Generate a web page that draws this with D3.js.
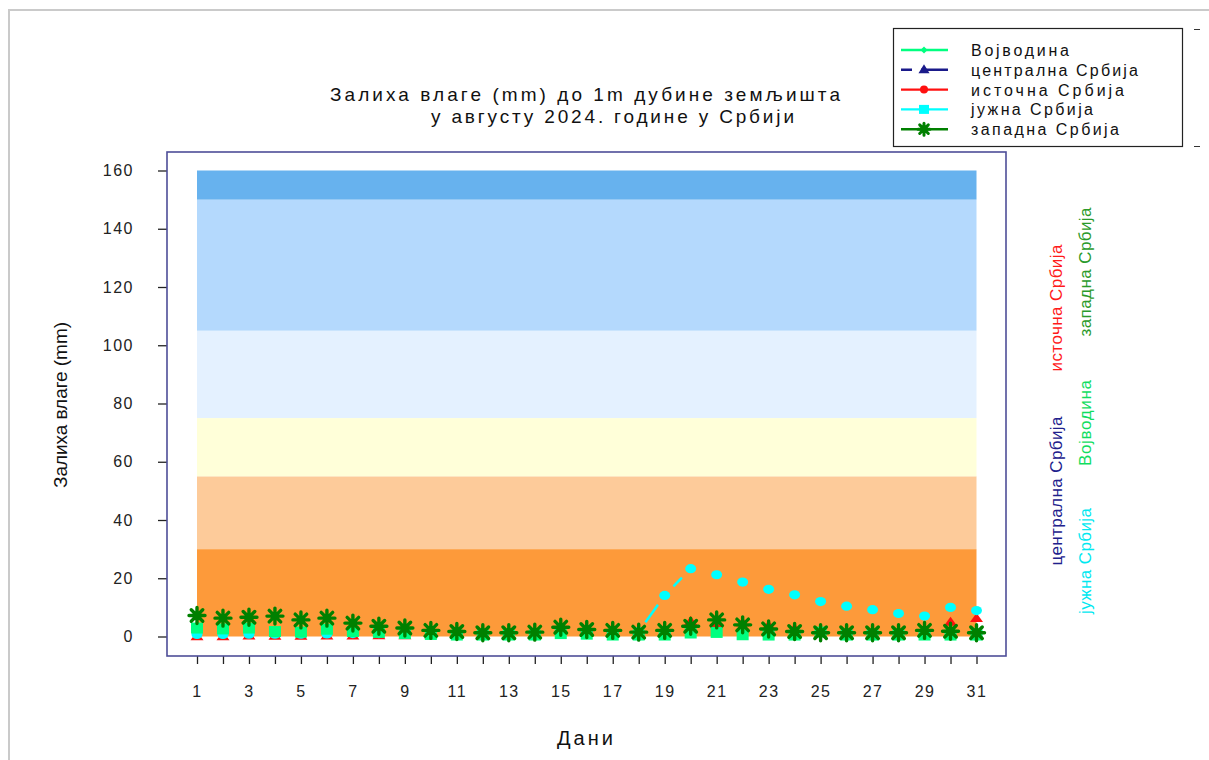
<!DOCTYPE html>
<html>
<head>
<meta charset="utf-8">
<script src="https://cdn.jsdelivr.net/npm/d3@7"></script>
<style>
  html, body { margin: 0; padding: 0; background: #fff; }
  svg { display: block; font-family: "Liberation Sans", Arial, sans-serif; }
</style>
</head>
<body>
<div id="chart"></div>
<script>
"use strict";

// days of August 2024
const days = d3.range(1, 32);

// soil moisture reserve (mm)
const vojvodina = [2.9, 2.6, 2.9, 1.7, 1.5, 2.5, 1.7, 1.4, 1.0, 0.7, 0.5, 0.5, 0.5, 0.5, 1.0, 0.8,
  0.5, 0.5, 0.5, 1.2, 1.4, 0.6, 0.5, 0.5, 1.5, 0.5, 0.5, 0.5, 0.5, 0.5, 0.5];
const centralna = [1.5, 1.5, 1.5, 1.2, 1.2, 1.5, 1.5, 1.4, 1.0, 1.0, 1.0, 1.0, 1.0, 1.0, 1.5, 1.5,
  1.5, 1.2, 1.5, 2.0, 2.0, 2.0, 1.8, 1.5, 1.2, 1.2, 1.2, 1.2, 1.5, 1.5, 1.2];
const istocna = [0.3, 0.3, 0.5, 0.4, 0.4, 0.5, 0.5, 0.6, 0.6, 0.8, 1.0, 1.0, 1.0, 1.2, 2.5, 2.8,
  2.8, 2.2, 2.0, 5.5, 4.5, 5.0, 4.0, 3.0, 1.5, 1.2, 1.2, 1.2, 1.8, 5.2, 6.5];
const juzna = [0.7, 0.7, 0.8, 0.8, 0.8, 0.9, 1.0, 1.0, 1.0, 1.1, 1.2, 1.2, 1.2, 1.3, 1.4, 1.5,
  1.6, 1.7, 14.1, 23.3, 21.2, 18.7, 16.2, 14.3, 12.0, 10.4, 9.2, 7.9, 7.0, 10.0, 8.9];
const zapadna = [7.2, 6.3, 6.6, 7.0, 5.7, 6.3, 4.6, 3.5, 2.9, 2.1, 1.7, 1.3, 1.3, 1.5, 3.2, 2.4,
  2.1, 1.5, 2.1, 3.5, 5.7, 4.0, 2.6, 1.7, 1.3, 1.3, 1.3, 1.3, 2.1, 1.8, 1.3];

// background classes (mm)
const bandBreaks = [0, 30, 55, 75, 105, 150, 160];
const bandColors = ["#fd9a3a", "#fdcb9a", "#ffffd9", "#e4f1ff", "#b4d9fd", "#67b2ee"];

const yTicks = [0, 20, 40, 60, 80, 100, 120, 140, 160];

const titleLines = ["Залиха влаге (mm) до 1m дубине земљишта", "у августу 2024. године у Србији"];
const yTitle = "Залиха влаге (mm)";
const xTitle = "Дани";

const seriesNames = ["Војводина", "централна Србија", "источна Србија", "јужна Србија", "западна Србија"];

const W = 1209, H = 760;
const frame = { left: 167, top: 152, right: 1006, bottom: 656 };

const svg = d3.select("#chart").append("svg")
  .attr("width", W)
  .attr("height", H);

// thin grey page border (top and left only)
svg.append("path")
  .attr("d", `M9,${H}V10H${W}`)
  .attr("fill", "none")
  .attr("stroke", "#cacaca")
  .attr("stroke-width", 2);

const x = d3.scaleLinear().domain([1, 31]).range([197, 976.5]);
const y = d3.scaleLinear().domain([0, 160]).range([636.5, 170.5]);

function fit(sel, len) {
  return sel.attr("textLength", len).attr("lengthAdjust", "spacing");
}

/*
 * Background bands
 ***/
svg.append("g").selectAll("rect")
  .data(bandColors)
  .join("rect")
  .attr("x", x(1))
  .attr("width", x(31) - x(1))
  .attr("y", (d, i) => y(bandBreaks[i + 1]))
  .attr("height", (d, i) => y(bandBreaks[i]) - y(bandBreaks[i + 1]))
  .attr("fill", d => d);

/*
 * Axes
 ***/
const yAxis = d3.axisLeft(y)
  .tickValues(yTicks)
  .tickSize(9)
  .tickPadding(24);

const yAxisG = svg.append("g")
  .attr("transform", `translate(${frame.left},0)`)
  .call(yAxis);

const xAxis = d3.axisBottom(x)
  .tickValues(days)
  .tickSize(8)
  .tickPadding(22)
  .tickFormat(d => d % 2 ? d : "");

const xAxisG = svg.append("g")
  .attr("transform", `translate(0,${frame.bottom})`)
  .call(xAxis);

[yAxisG, xAxisG].forEach(g => {
  g.select(".domain").remove();
  g.selectAll(".tick line").attr("stroke", "#222").attr("stroke-width", 1.3);
  g.selectAll("text")
    .style("font-size", "16px")
    .style("letter-spacing", "1.5px")
    .attr("fill", "#222");
});

// plot frame
svg.append("rect")
  .attr("x", frame.left)
  .attr("y", frame.top)
  .attr("width", frame.right - frame.left)
  .attr("height", frame.bottom - frame.top)
  .attr("fill", "none")
  .attr("stroke", "#4e4e98")
  .attr("stroke-width", 1.6);

/*
 * Series
 ***/
const marks = svg.append("g");

function trianglePath(w, h) {
  return `M0,${-h / 2}L${w / 2},${h / 2}L${-w / 2},${h / 2}Z`;
}
const asteriskPath = (r) => {
  const q = r * 0.72;
  return `M${-r},0H${r}M0,${-r}V${r}M${-q},${-q}L${q},${q}M${-q},${q}L${q},${-q}`;
};

// централна Србија (hidden under the others)
marks.append("g").selectAll("path")
  .data(centralna)
  .join("path")
  .attr("d", trianglePath(7, 6))
  .attr("transform", (d, i) => `translate(${x(days[i])},${y(d)})`)
  .attr("fill", "#1a1a8a");

// источна Србија
marks.append("g").selectAll("path")
  .data(istocna)
  .join("path")
  .attr("d", trianglePath(13, 9))
  .attr("transform", (d, i) => `translate(${x(days[i])},${y(d)})`)
  .attr("fill", "#ff1010");

// јужна Србија: dashes only where segments are long, then dots
const juznaG = marks.append("g");
juznaG.selectAll("line")
  .data(d3.pairs(juzna.map((v, i) => [x(days[i]), y(v)])))
  .join("line")
  .attr("x1", d => d[0][0]).attr("y1", d => d[0][1])
  .attr("x2", d => d[1][0]).attr("y2", d => d[1][1])
  .attr("stroke", "#00ffff")
  .attr("stroke-width", 2.5)
  .attr("stroke-dasharray", d => {
    const len = Math.hypot(d[1][0] - d[0][0], d[1][1] - d[0][1]);
    const dash = Math.max(0, (len - 28) * 1.3);
    return `0 ${(len - dash) / 2} ${dash} ${len}`;
  });
juznaG.selectAll("ellipse")
  .data(juzna)
  .join("ellipse")
  .attr("cx", (d, i) => x(days[i]))
  .attr("cy", d => y(d))
  .attr("rx", 5.5)
  .attr("ry", 4.6)
  .attr("fill", "#00ffff");

// Војводина
marks.append("g").selectAll("rect")
  .data(vojvodina)
  .join("rect")
  .attr("x", (d, i) => x(days[i]) - 6)
  .attr("y", d => y(d) - 5.5)
  .attr("width", 12)
  .attr("height", 11)
  .attr("fill", "#00ff80");

// западна Србија
marks.append("g").selectAll("path")
  .data(zapadna)
  .join("path")
  .attr("d", asteriskPath(8))
  .attr("transform", (d, i) => `translate(${x(days[i])},${y(d)})`)
  .attr("fill", "none")
  .attr("stroke", "#008000")
  .attr("stroke-width", 3.4)
  .attr("stroke-linecap", "round");

/*
 * Titles
 ***/
fit(svg.append("text")
  .attr("x", 330).attr("y", 101)
  .style("font-size", "19px")
  .attr("fill", "#111")
  .text(titleLines[0]), 510);

fit(svg.append("text")
  .attr("x", 431).attr("y", 123)
  .style("font-size", "19px")
  .attr("fill", "#111")
  .text(titleLines[1]), 363);

fit(svg.append("text")
  .attr("transform", "translate(67,405) rotate(-90)")
  .attr("text-anchor", "middle")
  .style("font-size", "19px")
  .attr("fill", "#111")
  .text(yTitle), 166);

fit(svg.append("text")
  .attr("x", 585).attr("y", 745)
  .attr("text-anchor", "middle")
  .style("font-size", "20px")
  .attr("fill", "#111")
  .text(xTitle), 56);

/*
 * Legend
 ***/
const legend = svg.append("g");
legend.append("rect")
  .attr("x", 893.5).attr("y", 28.5)
  .attr("width", 289).attr("height", 118)
  .attr("fill", "#fff")
  .attr("stroke", "#222")
  .attr("stroke-width", 1.2);

svg.append("path")
  .attr("d", "M1194,29.5H1200M1194,146.5H1200")
  .attr("stroke", "#333")
  .attr("stroke-width", 1.2);

const legendColors = ["#00ff80", "#1a1a8a", "#ff1010", "#00ffff", "#008000"];
const legendWidths = [98, 167, 153, 122, 148];
const legendRows = legend.selectAll("g.row")
  .data(seriesNames)
  .join("g")
  .attr("class", "row")
  .attr("transform", (d, i) => `translate(0,${50 + i * 19.8})`);

legendRows.append("line")
  .attr("x1", 901).attr("x2", 948)
  .attr("stroke", (d, i) => legendColors[i])
  .attr("stroke-width", 2.4)
  .attr("stroke-dasharray", (d, i) => i === 1 ? "11 9 30 0" : null);

legendRows.each(function (d, i) {
  const g = d3.select(this);
  const c = legendColors[i];
  if (i === 0) g.append("path").attr("d", "M924,-3.5L927.5,0L924,3.5L920.5,0Z").attr("fill", c);
  if (i === 1) g.append("path").attr("d", trianglePath(11, 9)).attr("transform", "translate(924,-1)").attr("fill", c);
  if (i === 2) g.append("circle").attr("cx", 924).attr("r", 4).attr("fill", c);
  if (i === 3) g.append("rect").attr("x", 919).attr("y", -4.5).attr("width", 10).attr("height", 9).attr("fill", c);
  if (i === 4) g.append("path").attr("d", asteriskPath(6)).attr("transform", "translate(924,0)")
    .attr("stroke", c).attr("stroke-width", 3).attr("stroke-linecap", "round");
});

legendRows.append("text")
  .attr("x", 971).attr("y", 6)
  .style("font-size", "16px")
  .attr("fill", "#111")
  .text(d => d)
  .each(function (d, i) { fit(d3.select(this), legendWidths[i]); });

/*
 * Rotated region labels at the right
 ***/
const sideLabels = [
  { name: "источна Србија", color: "#ff1a1a", bx: 1062, cy: 308, len: 127 },
  { name: "западна Србија", color: "#2a9a2a", bx: 1091, cy: 272, len: 129 },
  { name: "централна Србија", color: "#20208c", bx: 1062, cy: 491, len: 149 },
  { name: "Војводина", color: "#10dd60", bx: 1091, cy: 423, len: 86 },
  { name: "јужна Србија", color: "#00e8f0", bx: 1091, cy: 561, len: 106 }
];

svg.append("g").selectAll("text")
  .data(sideLabels)
  .join("text")
  .attr("transform", d => `translate(${d.bx},${d.cy}) rotate(-90)`)
  .attr("text-anchor", "middle")
  .style("font-size", "17px")
  .attr("fill", d => d.color)
  .text(d => d.name)
  .each(function (d) { fit(d3.select(this), d.len); });
</script>
</body>
</html>
